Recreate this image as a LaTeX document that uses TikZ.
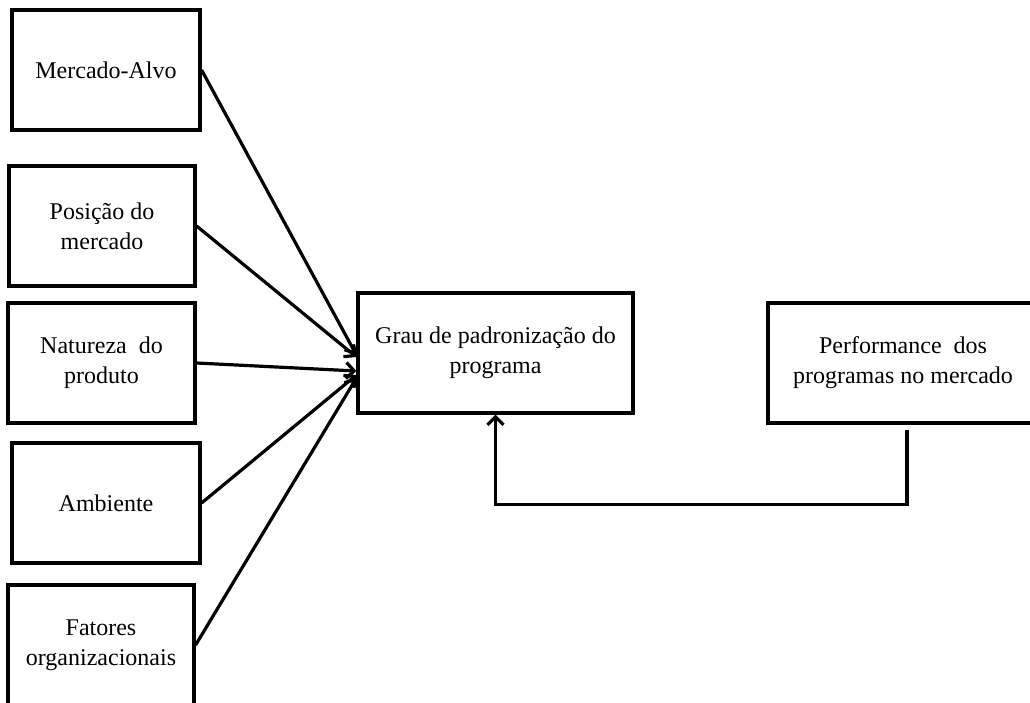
\documentclass[tikz,border=0pt]{standalone}
\usepackage{fontspec}
\setmainfont{Liberation Serif}
\usetikzlibrary{arrows.meta}
\begin{document}
\begin{tikzpicture}[x=1pt,y=1pt,
  box/.style={draw=black, line width=3.2pt, rectangle, inner sep=0pt, align=center,
    minimum height=120pt, font=\fontsize{24}{30}\selectfont},
  arr/.style={line width=3.2pt, -{Straight Barb[length=8pt,width=16pt]}}]
\useasboundingbox (0,0) rectangle (1030,-702);
\clip (0,0) rectangle (1030,-702);
\fill[white] (0,0) rectangle (1030,-702);
\node[box, minimum width=188pt] (m) at (106,-70) {Mercado-Alvo};
\node[box, minimum width=186pt] (p2) at (102,-226) {Posição do\\mercado};
\node[box, minimum width=187pt] (n) at (101.5,-363) {Natureza~ do\\produto};
\node[box, minimum width=188pt] (a) at (106,-503) {Ambiente};
\node[box, minimum width=186pt] (f) at (101,-645) {Fatores\\organizacionais};
\node[box, minimum width=275pt] (g) at (495.5,-353) {Grau de padronização do\\programa};
\node[box, minimum width=270pt] (pf) at (903,-363) {Performance~ dos\\programas no mercado};
\draw[arr] (m.east) -- ([yshift=-2pt]g.west);
\draw[arr] (p2.east) -- ([yshift=-4pt]g.west);
\draw[arr] (n.east) -- ([yshift=-18pt]g.west);
\draw[arr] (a.east) -- ([yshift=-22pt]g.west);
\draw[arr] (f.east) -- ([yshift=-25pt]g.west);
\coordinate (fb) at ([xshift=4pt,yshift=-5pt]pf.south);
\draw[arr] (fb) |- ([yshift=-90pt]g.south) -- (g.south);
\end{tikzpicture}
\end{document}
